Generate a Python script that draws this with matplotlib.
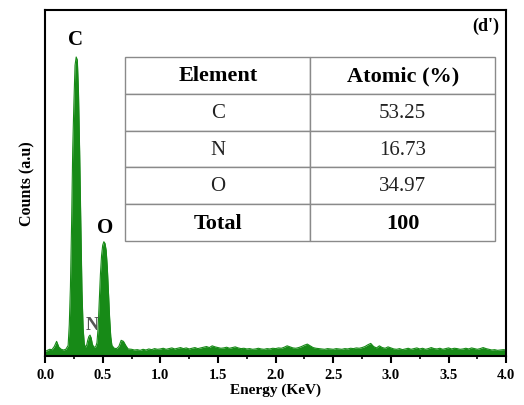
import numpy as np
import matplotlib
matplotlib.use('Agg')
from matplotlib import pyplot as plt

plt.rcParams['font.family'] = ['Liberation Serif', 'DejaVu Serif']

# EDS spectrum (counts in arbitrary units, 0-1000)
peak_energy = [0.00, 0.02, 0.04, 0.06, 0.08, 0.10, 0.12, 0.14, 0.16, 0.18, 0.20,
               0.21, 0.22, 0.23, 0.24, 0.25, 0.26, 0.27, 0.28, 0.29, 0.30,
               0.31, 0.32, 0.33, 0.34, 0.35, 0.36, 0.37, 0.38, 0.39, 0.40,
               0.41, 0.42, 0.43, 0.44, 0.45, 0.46, 0.47, 0.48, 0.49, 0.50,
               0.51, 0.52, 0.53, 0.54, 0.55, 0.56, 0.57, 0.58, 0.60, 0.62,
               0.64, 0.66, 0.68, 0.70, 0.72]
peak_counts = [12, 16, 19, 18, 27, 42, 25, 19, 17, 19, 30,
               90, 200, 380, 600, 730, 840, 864, 855, 760, 590,
               380, 190, 80, 35, 25, 30, 45, 56, 60, 52,
               34, 27, 25, 27, 38, 80, 160, 235, 290, 320,
               330, 325, 305, 255, 185, 110, 55, 30, 22, 21,
               27, 45, 42, 30, 20]

baseline_energy = np.round(np.arange(0.75, 4.0001, 0.025), 3)
baseline_counts = [19, 17, 18, 16, 19, 17, 20, 18, 21, 19,
                   20, 22, 19, 21, 23, 20, 22, 24, 21, 23,
                   20, 22, 24, 21, 23, 25, 27, 24, 29, 26,
                   24, 22, 23, 25, 22, 24, 26, 23, 21, 22,
                   20, 21, 19, 20, 22, 20, 19, 21, 20, 22,
                   21, 23, 22, 25, 29, 26, 23, 22, 24, 27,
                   31, 34, 29, 24, 22, 21, 20, 19, 21, 20,
                   19, 21, 20, 19, 21, 20, 22, 21, 23, 22,
                   24, 27, 32, 36, 27, 23, 29, 24, 22, 26,
                   23, 20, 19, 21, 18, 20, 22, 19, 21, 23,
                   20, 22, 19, 21, 24, 21, 20, 22, 19, 21,
                   23, 20, 22, 21, 19, 20, 22, 20, 23, 21,
                   19, 21, 24, 21, 19, 17, 18, 16, 17, 18,
                   17]

energy = np.concatenate([peak_energy, baseline_energy])
counts = np.concatenate([peak_counts, baseline_counts])

elements = ['C', 'N', 'O', 'Total']
atomic = ['53.25', '16.73', '34.97', '100']

green = '#178a17'

fig = plt.figure(figsize=(5.24, 4.06), dpi=100)
ax = fig.add_axes([0.086, 0.121, 0.880, 0.852])

ax.fill_between(energy, 0, counts, color=green, lw=0)
ax.plot(energy, counts, color=green, lw=0.8)

ax.set_xlim(0, 4.0)
ax.set_ylim(0, 1000)
ax.set_xticks(np.arange(0, 4.01, 0.5))
ax.set_xticks(np.arange(0.25, 4.0, 0.5), minor=True)
ax.set_xticklabels(['%.1f' % t for t in np.arange(0, 4.01, 0.5)],
                   fontweight='bold', fontsize=10.5)
ax.set_yticks([])
ax.tick_params(axis='x', which='major', direction='out', length=5, width=1.5, pad=4)
ax.tick_params(axis='x', which='minor', direction='out', length=2.5, width=1.2)
for s in ax.spines.values():
    s.set_linewidth(1.5)

ax.set_xlabel('Energy (KeV)', fontweight='bold', fontsize=11, labelpad=1)
ax.set_ylabel('Counts (a.u)', fontweight='bold', fontsize=11.5, labelpad=7)

ax.text(0.26, 916, 'C', fontsize=15, fontweight='bold', ha='center', va='center')
ax.text(0.52, 373, 'O', fontsize=15, fontweight='bold', ha='center', va='center')
ax.text(0.41, 92, 'N', fontsize=13, fontweight='bold', color='#555555',
        ha='center', va='center')
ax.text(0.985, 0.955, "(d')", transform=ax.transAxes, fontsize=13,
        fontweight='bold', ha='right', va='center')

cells = [[e, a] for e, a in zip(elements, atomic)]
tab = ax.table(cellText=cells, colLabels=['Element', 'Atomic (%)'],
               cellLoc='center', bbox=[0.174, 0.332, 0.802, 0.532])
tab.auto_set_font_size(False)
for (r, c), cell in tab.get_celld().items():
    cell.set_edgecolor('#8a8a8a')
    cell.set_linewidth(1.0)
    txt = cell.get_text()
    if r == 0 or r == len(elements):
        txt.set_fontweight('bold')
        txt.set_fontsize(16)
    else:
        txt.set_fontsize(15)
        txt.set_color('#222222')

fig.savefig('out.png', dpi=100)
